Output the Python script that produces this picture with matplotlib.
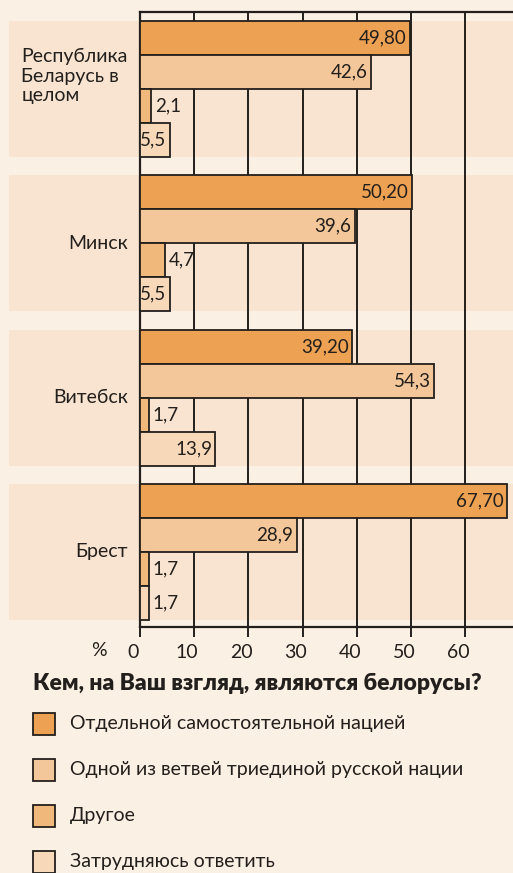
import matplotlib.pyplot as plt
from matplotlib.patches import Rectangle
from matplotlib.transforms import ScaledTranslation

regions = ["Республика\nБеларусь в\nцелом", "Минск", "Витебск", "Брест"]
answers = ["Отдельной самостоятельной нацией",
           "Одной из ветвей триединой русской нации",
           "Другое",
           "Затрудняюсь ответить"]
values = [[49.80, 42.6, 2.1, 5.5],
          [50.20, 39.6, 4.7, 5.5],
          [39.20, 54.3, 1.7, 13.9],
          [67.70, 28.9, 1.7, 1.7]]
labels = [["49,80", "42,6", "2,1", "5,5"],
          ["50,20", "39,6", "4,7", "5,5"],
          ["39,20", "54,3", "1,7", "13,9"],
          ["67,70", "28,9", "1,7", "1,7"]]
ticks = [0, 10, 20, 30, 40, 50, 60]
title = "Кем, на Ваш взгляд, являются белорусы?"

bg = "#fbf0e4"
band = "#f8e4d0"
colors = ["#eda152", "#f3c79a", "#f0b87a", "#f7d9ba"]
ink = "#231f1c"

plt.rcParams['font.family'] = ['Lato', 'DejaVu Sans']

fig = plt.figure(figsize=(5.13, 8.73), dpi=100, facecolor=bg)
# axes spans x 140..513 px, y 12..627 px
ax = fig.add_axes([140 / 513, 1 - 627 / 873, 373 / 513, 615 / 873])
ax.set_facecolor("none")

px = 34.0  # one bar height in pixels
step = 154.3 / px
top0 = 9 / px
ax.set_xlim(0, 68.86)
ax.set_ylim(615 / px, 0)

for g, reg in enumerate(regions):
    y0 = top0 + g * step
    ax.axhspan(y0, y0 + 4, xmin=-131 / 373, xmax=1, color=band, zorder=0,
               clip_on=False, lw=0)
    for k in range(4):
        v = values[g][k]
        yc = y0 + k + 0.5
        ax.barh(yc, v, height=1, left=0, color=colors[k], edgecolor=ink,
                linewidth=1.3, zorder=3)
        if v < 5:
            ax.text(v + 0.6, yc, labels[g][k], ha="left", va="center",
                    fontsize=13.5, color=ink, zorder=4)
        else:
            ax.text(v - 0.6, yc, labels[g][k], ha="right", va="center",
                    fontsize=13.5, color=ink, zorder=4)
    if "\n" in reg:
        ax.text(-21.9, y0 + 1.62, reg, ha="left", va="center", fontsize=14,
                color=ink, linespacing=1.2)
    else:
        ax.text(-2.2, y0 + 2, reg, ha="right", va="center", fontsize=14,
                color=ink)

for t in ticks[1:]:
    ax.axvline(t, color=ink, lw=1.4, zorder=1)

ax.spines["right"].set_visible(False)
for s in ["left", "top", "bottom"]:
    ax.spines[s].set_color(ink)
    ax.spines[s].set_linewidth(1.6)
ax.set_yticks([])
ax.set_xticks(ticks)
ax.set_xticklabels([str(t) for t in ticks])
ax.tick_params(axis="x", length=7, width=1.4, color=ink, labelsize=14,
               labelcolor=ink, pad=5)
shift = ScaledTranslation(-7 / 100, 0, fig.dpi_scale_trans)
for lab in ax.get_xticklabels():
    lab.set_transform(lab.get_transform() + shift)
ax.text(-7.6, -24 / 615, "%", transform=ax.get_xaxis_transform(),
        ha="center", va="center", fontsize=14, color=ink)

fig.text(33 / 513, 1 - 684 / 873, title, ha="left", va="center",
         fontsize=16.5, fontweight="heavy", color=ink)

for i, a in enumerate(answers):
    yc = 724 + i * 46
    fig.patches.append(Rectangle((33 / 513, 1 - (yc + 11) / 873), 22 / 513,
                                 22 / 873, transform=fig.transFigure,
                                 facecolor=colors[i], edgecolor=ink, lw=1.3))
    fig.text(70 / 513, 1 - yc / 873, a, ha="left", va="center",
             fontsize=14, color=ink)

fig.savefig("out.png", dpi=100, facecolor=bg)
